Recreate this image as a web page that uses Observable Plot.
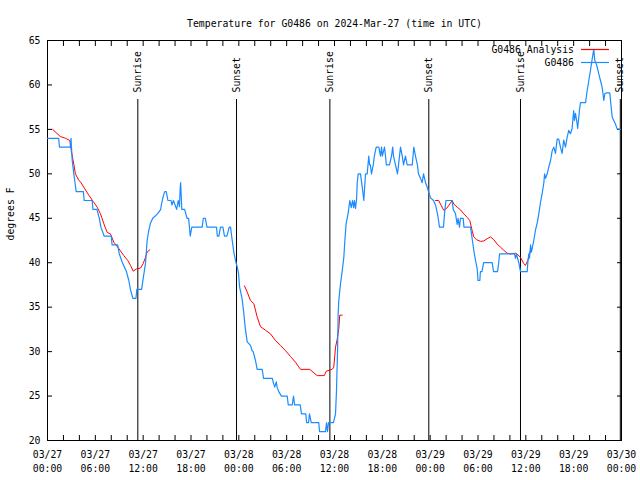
<!DOCTYPE html>
<html><head><meta charset="utf-8">
<script src="https://cdn.jsdelivr.net/npm/d3@7"></script>
<script src="https://cdn.jsdelivr.net/npm/@observablehq/plot@0.6"></script>
<style>body{margin:0;background:#fff}</style>
</head><body><div id="chart"></div>
<script>
const title = "Temperature for G0486 on 2024-Mar-27 (time in UTC)";
const yLabel = "degrees F";
const seriesNames = ["G0486 Analysis", "G0486"];
const seriesColors = ["#ff0000", "#1a8cff"];

// hours since 2024-03-27 00:00 UTC
const obsHours = [0,1.40,1.50,2.85,2.95,3.10,3.30,3.45,3.60,4.50,4.60,5.60,5.70,6.20,6.50,6.70,7.10,8.00,8.10,8.80,9.00,9.40,9.90,10.20,10.40,10.70,11.10,11.20,11.80,12.30,12.50,12.70,12.90,13.20,13.80,14.20,14.30,14.50,14.70,14.90,15.10,15.50,15.60,15.80,16.00,16.20,16.40,16.55,16.65,16.70,16.85,17.20,17.50,17.70,17.90,18.10,19.40,19.55,19.80,20.00,21.20,21.30,21.50,21.70,22.00,22.20,22.50,22.80,22.96,23.17,23.37,23.58,23.80,23.96,24.10,24.40,24.60,24.80,25.05,25.46,25.67,25.80,26.09,26.30,26.93,27.10,28.20,28.30,28.50,28.70,28.80,29.00,29.35,30.07,30.20,30.70,30.86,31.00,31.70,31.86,32.40,32.50,32.74,32.86,33.08,34.03,34.12,34.87,35.00,35.12,35.25,35.87,36.13,36.25,36.38,36.46,36.54,36.75,36.97,37.17,37.30,37.46,37.70,37.92,38.10,38.26,38.40,38.50,38.64,38.77,38.85,38.97,39.26,39.48,39.68,39.89,40.10,40.30,40.40,40.50,40.64,40.86,41.00,41.23,41.56,41.77,41.90,42.00,42.27,42.40,42.50,42.90,43.15,43.30,43.40,43.65,43.90,44.03,44.28,44.50,44.66,44.90,45.12,45.75,45.95,46.16,46.40,46.53,46.79,47.00,47.17,47.42,47.63,47.83,48.05,48.42,48.67,48.92,49.05,49.17,49.67,49.80,49.98,50.76,50.89,51.18,51.39,51.50,51.68,51.80,52.14,52.24,53.06,53.27,53.47,53.69,53.90,54.00,54.23,54.30,54.50,54.70,55.78,55.95,56.45,56.60,56.70,58.58,58.70,58.83,58.96,59.12,59.33,60.17,60.25,60.37,60.46,60.59,60.70,61.00,61.20,61.43,61.63,61.84,62.05,62.26,62.35,62.47,62.68,62.88,63.10,63.31,63.51,63.72,63.93,64.13,64.34,64.55,64.75,64.97,65.18,65.38,65.60,65.80,66.00,66.10,66.23,66.44,66.50,66.72,66.85,67.49,67.70,67.90,68.10,68.32,68.52,68.65,68.82,68.95,69.15,69.36,69.57,69.78,69.90,70.08,70.53,70.62,70.83,71.03,71.24,71.45,71.87];
const obsTemps = [54,54,53,53,54,51.5,50,49,48,48,47,47,46,46,45,44,43,43,42,42,41,40,39,38,37,36,36,37,37,40,42.5,43.6,44.4,45,45.5,46,46.6,47.4,48,48,47,47,46.5,47,46.5,46,47,46.3,48.5,49,46,46,45,45,43,44,44,45,45,44,44,43,43,44,44,43,43,44,44,42.5,41.2,40.25,39.5,38.8,37.25,36,34.5,32.7,31.1,30.7,30.1,30,29,28,28,27,27,26.6,26,26.6,26,25.5,25,25,24,24,25,24,24,23,23,22,22,23,22,22,21,21,22,21,22,22,23,25.6,30,34.3,35.75,37.6,39.1,40.6,42.5,44.4,45.5,47,46.2,47,46.2,47,46.1,47.2,49,50,50,48.5,47,50,50,52,51,51,50,51,52,53,53,52,53,52,53,52,51,51,52,53,52,51,50,51,53,52,51,52,51,51,53,52,51,50,49.5,49,50,49,48.5,47.9,47.3,47,46.5,45.5,44.75,44,44,45.5,47,47,46,45.5,44.3,45,44,45,45,44,44,42.7,41.4,40.25,39.3,38,38,39,39,40,40,39,39,40,41,41,40.5,41,40.5,40,39,39,40,41,40.5,42,41.2,42.5,43.6,44.5,45.5,46.8,47.8,49,50,49.5,50,50.75,51.5,52.6,53,52.3,53.9,53.9,53,52.3,53.8,53,54.1,54.9,54.5,55.1,57.1,56,56.8,55.6,55.1,57.1,58,58,59.4,60.5,61.6,62.9,64,62.75,62.4,62,61.25,60.5,59.75,58.25,59,59.1,59.1,58.25,56.4,56,55.6,55.06,55];

// analysis series; null separates the three runs
const anaHours = [0.65,1.60,2.25,2.80,2.98,3.30,3.50,3.93,4.14,4.55,5.18,5.80,6.23,6.65,7.06,7.49,7.90,8.32,8.94,9.57,10.07,10.41,10.75,11.16,11.67,12.00,12.29,12.50,12.83,
  18.0,
  24.71,25.05,25.46,25.88,26.30,26.72,27.35,27.97,28.60,29.23,29.86,30.48,31.11,31.74,32.90,33.83,34.72,34.97,35.71,35.91,36.13,36.34,36.54,36.66,36.97,
  42.0,
  48.67,49.07,49.29,49.70,50.05,50.30,50.76,50.97,51.39,51.80,52.22,52.65,52.97,53.27,53.47,53.81,54.31,54.73,55.15,55.57,55.98,56.40,56.82,57.24,57.66,58.08,58.70,58.90,59.33,59.74,59.95,60.25,60.59];
const anaTemps = [55,54.2,54,53.75,52.6,51.1,50,49.25,49.1,48.5,47.6,46.8,46.25,45.5,44.4,43.4,43.25,42.3,41.6,40.8,40.25,39.7,39.05,39.3,39.4,39.9,40.6,41.2,41.45,
  null,
  37.4,36.7,35.75,35.4,33.9,32.8,32.4,32.0,31.25,30.7,30.1,29.45,28.8,28.0,28.0,27.3,27.3,27.8,28,28.25,30.5,31.4,32.6,34.1,34.1,
  null,
  47,47,46.6,45.9,46.1,46.4,47,46.6,46.25,45.95,45.5,45.1,44.75,43.6,42.9,42.6,42.4,42.45,42.7,42.9,42.6,42.1,41.75,41.4,41.07,41,41.07,41,40.6,39.9,39.7,40.25,41.4];

const sunHours = [11.33, 23.71, 35.42, 47.83, 59.33, 71.85];
const sunLabels = ["Sunrise", "Sunset", "Sunrise", "Sunset", "Sunrise", "Sunset"];

const xTickHours = [0, 6, 12, 18, 24, 30, 36, 42, 48, 54, 60, 66, 72];
const xTickLabels = ["03/27\n00:00","03/27\n06:00","03/27\n12:00","03/27\n18:00","03/28\n00:00","03/28\n06:00","03/28\n12:00","03/28\n18:00","03/29\n00:00","03/29\n06:00","03/29\n12:00","03/29\n18:00","03/30\n00:00"];
const xMinorTicks = d3.range(0, 73, 2);
const yTicks = [20, 25, 30, 35, 40, 45, 50, 55, 60, 65];

const obs = obsHours.map((h, i) => ({h, t: obsTemps[i]}));
const ana = anaHours.map((h, i) => ({h, t: anaTemps[i]}));
const sun = sunHours.map((h, i) => ({h, label: sunLabels[i]}));
const xLabelMap = new Map(xTickHours.map((h, i) => [h, xTickLabels[i]]));

function legend(index, scales, values, dims) {
  const g = d3.create("svg:g");
  const right = dims.width - dims.marginRight;
  const top = dims.marginTop;
  seriesNames.forEach((name, i) => {
    const y = top + 9.5 + i * 13;
    g.append("text").attr("x", right - 47).attr("y", y).attr("dy", "0.32em")
      .attr("text-anchor", "end").attr("fill", "black").text(name);
    g.append("line").attr("x1", right - 40).attr("x2", right - 12)
      .attr("y1", y).attr("y2", y).attr("stroke", seriesColors[i]).attr("stroke-width", 1.2);
  });
  return g.node();
}

const chart = Plot.plot({
  width: 640,
  height: 480,
  marginLeft: 47,
  marginRight: 19,
  marginTop: 40,
  marginBottom: 40,
  style: {fontFamily: "'DejaVu Sans Mono', monospace", fontSize: "9.8px", background: "white", color: "black"},
  x: {domain: [0, 72], axis: null},
  y: {domain: [20, 65], axis: null},
  marks: [
    Plot.frame({stroke: "black"}),
    Plot.axisX({anchor: "bottom", ticks: xMinorTicks, tickSize: -5, tickFormat: () => "", label: null}),
    Plot.axisX({anchor: "top", ticks: xMinorTicks, tickSize: -5, tickFormat: () => "", label: null}),
    Plot.axisX({anchor: "bottom", ticks: xTickHours, tickSize: 0, tickPadding: 8, lineHeight: 1.4, tickFormat: d => xLabelMap.get(d), label: null}),
    Plot.axisY({anchor: "left", ticks: yTicks, tickSize: -5, tickFormat: () => "", label: null}),
    Plot.axisY({anchor: "right", ticks: yTicks, tickSize: -5, tickFormat: () => "", label: null}),
    Plot.axisY({anchor: "left", ticks: yTicks, tickSize: 0, tickPadding: 7, label: null}),
    Plot.ruleX(sun, {x: "h", stroke: "black", strokeWidth: 1, insetTop: 59}),
    Plot.text(sun, {x: "h", text: "label", frameAnchor: "top", dy: 52, rotate: -90, textAnchor: "start", lineAnchor: "middle", fill: "black"}),
    Plot.line(ana, {x: "h", y: "t", stroke: seriesColors[0], strokeWidth: 1}),
    Plot.line(obs, {x: "h", y: "t", stroke: seriesColors[1], strokeWidth: 1.2}),
    Plot.text([title], {frameAnchor: "top", dy: -20, fill: "black"}),
    Plot.text([yLabel], {frameAnchor: "left", dx: -37, rotate: -90, fill: "black"}),
    legend
  ]
});
document.getElementById("chart").appendChild(chart);
</script>
</body></html>
